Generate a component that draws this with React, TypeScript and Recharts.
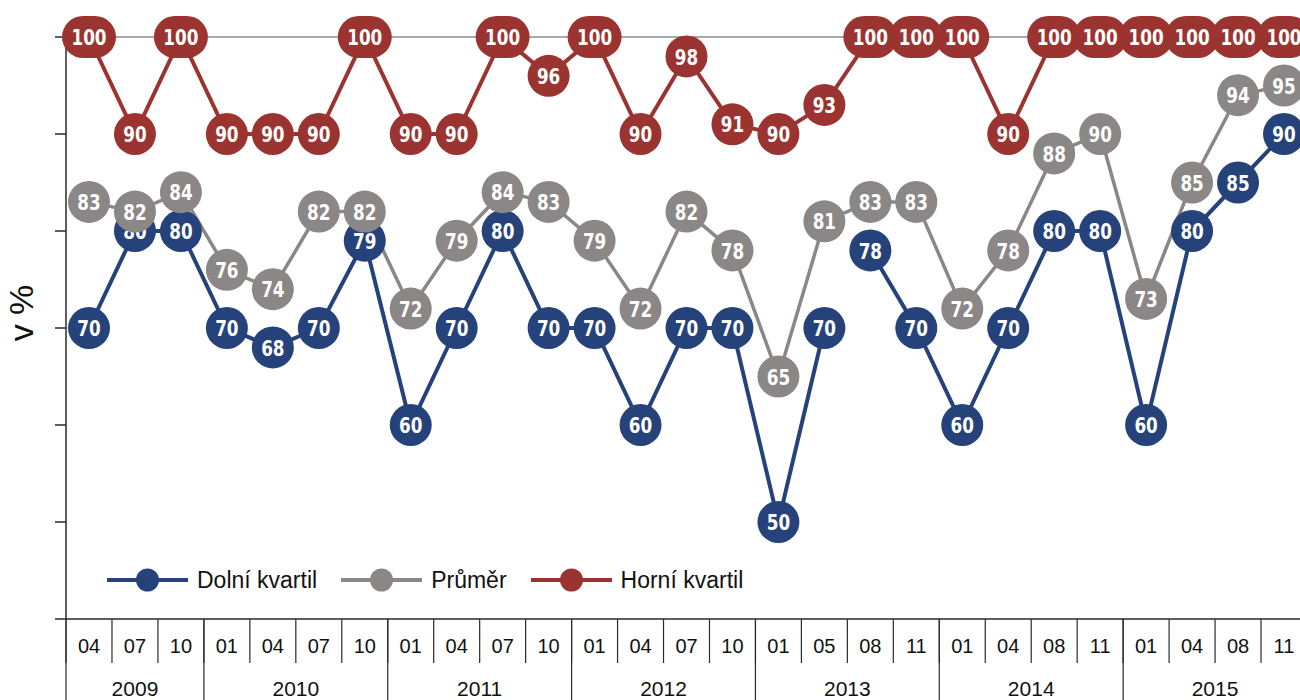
import React from 'react';
import { LineChart, Line, XAxis, YAxis, CartesianGrid, Legend } from 'recharts';

const months = ['04', '07', '10', '01', '04', '07', '10', '01', '04', '07', '10', '01', '04', '07', '10', '01', '05', '08', '11', '01', '04', '08', '11', '01', '04', '08', '11'];
const years = ['2009', '2009', '2009', '2010', '2010', '2010', '2010', '2011', '2011', '2011', '2011', '2012', '2012', '2012', '2012', '2013', '2013', '2013', '2013', '2014', '2014', '2014', '2014', '2015', '2015', '2015', '2015'];

const dolniKvartil = [70, 80, 80, 70, 68, 70, 79, 60, 70, 80, 70, 70, 60, 70, 70, 50, 70, 78, 70, 60, 70, 80, 80, 60, 80, 85, 90];
const prumer = [83, 82, 84, 76, 74, 82, 82, 72, 79, 84, 83, 79, 72, 82, 78, 65, 81, 83, 83, 72, 78, 88, 90, 73, 85, 94, 95];
const horniKvartil = [100, 90, 100, 90, 90, 90, 100, 90, 90, 100, 96, 100, 90, 98, 91, 90, 93, 100, 100, 100, 90, 100, 100, 100, 100, 100, 100];
// the lower-quartile line is not connected between these two points in the original
const dolniGapAfter = 16;

const seriesNames = ['Dolní kvartil', 'Průměr', 'Horní kvartil'];
const yTicks = [40, 50, 60, 70, 80, 90, 100];

const BLUE = '#26427a';
const GRAY = '#8b8786';
const RED = '#9b3430';
const AXIS = '#2a2a2a';
const FONT = '"Liberation Sans", Arial, sans-serif';
const NUM_FONT = '"Liberation Sans Narrow", "DejaVu Sans Condensed", "Arial Narrow", sans-serif';

const data = months.map((m, i) => ({
  month: m,
  year: years[i],
  dolniA: i <= dolniGapAfter ? dolniKvartil[i] : null,
  dolniB: i > dolniGapAfter ? dolniKvartil[i] : null,
  prumer: prumer[i],
  horni: horniKvartil[i],
}));

const makeDot = (color: string) => (props: any) => {
  const { cx, cy, value, index } = props;
  if (value === null || value === undefined || cx == null || cy == null) return <g key={`e-${index}`} />;
  const big = value >= 100;
  const txt = String(value);
  return (
    <g key={`d-${index}`}>
      {big ? (
        <rect x={cx - 27} y={cy - 21} width={54} height={42} rx={21} ry={21} fill={color} />
      ) : (
        <circle cx={cx} cy={cy} r={21} fill={color} />
      )}
      <text
        x={cx}
        y={cy}
        dy="0.37em"
        textAnchor="middle"
        fill="#ffffff"
        fontSize={22}
        fontWeight="bold"
        fontFamily={NUM_FONT}
        textLength={txt.length * 11.7}
        lengthAdjust="spacingAndGlyphs"
      >
        {txt}
      </text>
    </g>
  );
};

const MonthTick = (props: any) => {
  const { x, y, payload, width } = props;
  const bw = width / months.length;
  return (
    <g>
      <line x1={x - bw / 2} x2={x - bw / 2} y1={y} y2={y + 44} stroke={AXIS} strokeWidth={1.2} />
      <text x={x} y={y + 34} textAnchor="middle" fontSize={20} fill="#111" fontFamily={FONT}>
        {payload.value}
      </text>
    </g>
  );
};

const YearTick = (props: any) => {
  const { x, y, index, width } = props;
  const bw = width / months.length;
  const yr = years[index];
  if (index > 0 && years[index - 1] === yr) return <g />;
  let n = 0;
  for (let k = index; k < years.length && years[k] === yr; k++) n++;
  const left = x - bw / 2;
  return (
    <g>
      <line x1={left} x2={left} y1={y - 44} y2={y + 40} stroke={AXIS} strokeWidth={1.2} />
      <text x={left + (n * bw) / 2} y={y + 33} textAnchor="middle" fontSize={21} fill="#111" fontFamily={FONT}>
        {yr}
      </text>
    </g>
  );
};

const renderLegend = (props: any) => {
  const { payload } = props;
  const items = seriesNames
    .map((name) => (payload || []).find((p: any) => p.value === name && p.type !== 'none'))
    .filter(Boolean);
  return (
    <div style={{ display: 'flex', alignItems: 'center', fontFamily: FONT, fontSize: 23, color: '#111', whiteSpace: 'nowrap' }}>
      {items.map((p: any) => (
        <div key={p.value} style={{ display: 'flex', alignItems: 'center', marginRight: 24 }}>
          <svg width={81} height={30} style={{ display: 'block' }}>
            <line x1={0} x2={81} y1={15} y2={15} stroke={p.color} strokeWidth={4} />
            <circle cx={40.5} cy={15} r={11.5} fill={p.color} />
          </svg>
          <span style={{ marginLeft: 9 }}>{p.value}</span>
        </div>
      ))}
    </div>
  );
};

const YLabel = (props: any) => {
  const vb = props.viewBox || { x: 0, y: 37, width: 66, height: 582 };
  const cx = vb.x + 21;
  const cy = vb.y + vb.height / 2 - 15;
  return (
    <text
      x={cx}
      y={cy}
      transform={`rotate(-90, ${cx}, ${cy})`}
      textAnchor="middle"
      dominantBaseline="central"
      fontSize={34}
      fill="#111"
      fontFamily={FONT}
    >
      v %
    </text>
  );
};

export default function App() {
  return (
    <div style={{ position: 'fixed', left: 0, top: 0, width: 1300, height: 700, overflow: 'hidden', background: '#fff' }}>
      <LineChart width={1320} height={720} data={data} margin={{ top: 37, right: 13, left: 0, bottom: 17 }}>
        <CartesianGrid vertical={false} horizontalValues={[100]} stroke="#8c8c8c" strokeWidth={1.5} />
        <XAxis
          dataKey="month"
          interval={0}
          padding={{ left: 23, right: 23 }}
          tickLine={false}
          axisLine={{ stroke: AXIS, strokeWidth: 1.5 }}
          tickSize={0}
          tickMargin={0}
          height={44}
          tick={<MonthTick />}
        />
        <XAxis
          xAxisId="year"
          dataKey="month"
          interval={0}
          padding={{ left: 23, right: 23 }}
          tickLine={false}
          axisLine={false}
          tickSize={0}
          tickMargin={0}
          height={40}
          tick={<YearTick />}
        />
        <YAxis
          domain={[40, 100]}
          ticks={yTicks}
          width={66}
          tickSize={11}
          tickFormatter={() => ''}
          tickLine={{ stroke: AXIS, strokeWidth: 1.5 }}
          axisLine={{ stroke: AXIS, strokeWidth: 1.5 }}
          label={<YLabel />}
        />
        <Legend
          layout="horizontal"
          verticalAlign="middle"
          align="center"
          wrapperStyle={{ left: 107, top: 565, width: 'auto' }}
          content={renderLegend}
        />
        <Line
          dataKey="dolniA"
          name="Dolní kvartil"
          stroke={BLUE}
          strokeWidth={4}
          dot={makeDot(BLUE)}
          activeDot={false}
          isAnimationActive={false}
          connectNulls={false}
        />
        <Line
          dataKey="dolniB"
          name="Dolní kvartil"
          legendType="none"
          stroke={BLUE}
          strokeWidth={4}
          dot={makeDot(BLUE)}
          activeDot={false}
          isAnimationActive={false}
          connectNulls={false}
        />
        <Line
          dataKey="prumer"
          name="Průměr"
          stroke={GRAY}
          strokeWidth={3.5}
          dot={makeDot(GRAY)}
          activeDot={false}
          isAnimationActive={false}
        />
        <Line
          dataKey="horni"
          name="Horní kvartil"
          stroke={RED}
          strokeWidth={4}
          dot={makeDot(RED)}
          activeDot={false}
          isAnimationActive={false}
        />
      </LineChart>
    </div>
  );
}
